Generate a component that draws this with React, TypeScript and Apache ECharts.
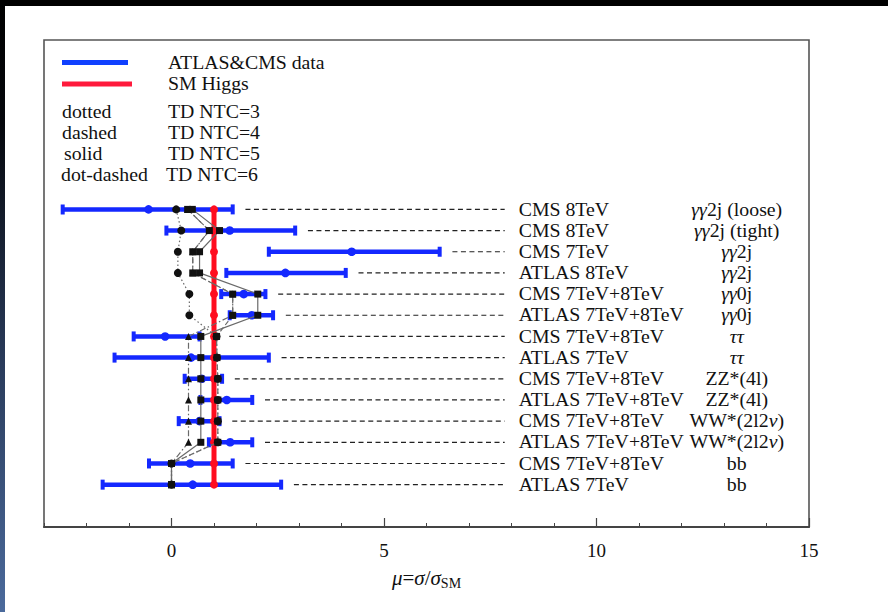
import React, { useEffect, useRef } from "react";
import * as echarts from "echarts";

// ---- data (top row first) ----
const experiments = [
  "CMS 8TeV", "CMS 8TeV", "CMS 7TeV", "ATLAS 8TeV", "CMS 7TeV+8TeV", "ATLAS 7TeV+8TeV",
  "CMS 7TeV+8TeV", "ATLAS 7TeV", "CMS 7TeV+8TeV", "ATLAS 7TeV+8TeV", "CMS 7TeV+8TeV",
  "ATLAS 7TeV+8TeV", "CMS 7TeV+8TeV", "ATLAS 7TeV",
];
const channels = [
  "γγ2j (loose)", "γγ2j (tight)", "γγ2j", "γγ2j", "γγ0j", "γγ0j", "ττ", "ττ",
  "ZZ*(4l)", "ZZ*(4l)", "WW*(2l2ν)", "WW*(2l2ν)", "bb", "bb",
];
const rowY = [14, 13, 12, 11, 10, 9, 8, 7, 6, 5, 4, 3, 2, 1];
const muCentral = [-0.54, 1.37, 4.24, 2.68, 1.70, 1.89, -0.15, 0.46, 0.71, 1.30, 0.66, 1.38, 0.44, 0.50];
const muLow = [-2.56, -0.12, 2.29, 1.29, 1.17, 1.37, -0.89, -1.34, 0.31, 0.68, 0.17, 0.88, -0.53, -1.62];
const muHigh = [1.44, 2.91, 6.31, 4.10, 2.21, 2.39, 0.66, 2.29, 1.19, 1.90, 1.13, 1.90, 1.44, 2.58];
const smHiggs = [1, 1, 1, 1, 1, 1, 1, 1, 1, 1, 1, 1, 1, 1];
const ntc3 = [0.11, 0.23, 0.15, 0.15, 0.42, 0.42, 1.06, 1.07, 1.09, 1.09, 1.09, 1.09, 0.0, 0.0];
const ntc4 = [0.38, 0.89, 0.50, 0.50, 1.44, 1.44, 1.06, 1.07, 1.09, 1.09, 1.09, 1.09, 0.0, 0.0];
const ntc5 = [0.49, 1.13, 0.66, 0.66, 2.03, 2.03, 0.69, 0.69, 0.69, 0.69, 0.69, 0.69, 0.0, 0.0];
const ntc6 = [0.38, 0.89, 0.50, 0.50, 1.44, 1.44, 0.40, 0.40, 0.40, 0.40, 0.40, 0.40, 0.0, 0.0];
const majorTicks = [0, 5, 10, 15];

const FONT = "'Liberation Serif', 'Times New Roman', serif";
const BLUE = "#1428ff";
const RED = "#ff0d1f";
const LABEL_X = 8.17;
const CHANNEL_X = 13.3;
const DASH_END = 7.84;
const SX = 1.1;

function richChannel(s: string): string {
  return s.replace(/[γτν]+/g, (m) => `{g|${m}}`);
}

export default function App() {
  const ref = useRef<HTMLDivElement>(null);

  useEffect(() => {
    const chart = echarts.init(ref.current!, null, { renderer: "svg" });

    const modelSeries = (
      name: string,
      vals: number[],
      dash: any,
      symbol: string,
      size: number
    ) => ({
      name,
      type: "line",
      xAxisIndex: 0,
      z: 5,
      data: vals.map((v, i) => [v, rowY[i]]),
      symbol,
      symbolSize: size,
      itemStyle: { color: "#111" },
      lineStyle: { color: "#6a6a6a", width: 1.2, type: dash },
      silent: true,
    });

    const textBase = { fontFamily: FONT, fontSize: 18, fill: "#111" };
    const legendText = (x: number, y: number, text: string) => ({
      type: "text",
      x,
      y,
      scaleX: SX,
      style: { ...textBase, text, verticalAlign: "middle" },
    });

    chart.setOption({
      animation: false,
      backgroundColor: "#ffffff",
      grid: {
        left: 44,
        top: 40,
        width: 765,
        height: 487,
        show: true,
        borderColor: "#555",
        borderWidth: 1.6,
        backgroundColor: "transparent",
      },
      xAxis: [
        {
          type: "value",
          min: -3,
          max: 15,
          interval: 1,
          position: "bottom",
          axisLine: { show: true, onZero: false, lineStyle: { color: "#444", width: 2 } },
          axisTick: { show: true, inside: true, length: 4, lineStyle: { color: "#444", width: 1 } },
          axisLabel: {
            show: true,
            margin: 14,
            fontFamily: FONT,
            fontSize: 19,
            color: "#111",
            formatter: (v: number) => (majorTicks.indexOf(v) >= 0 ? String(v) : ""),
          },
          splitLine: { show: false },
          name: "{i|μ}{r|=}{i|σ}{r|/}{i|σ}{s|SM}",
          nameLocation: "middle",
          nameGap: 38,
          nameTextStyle: {
            fontFamily: FONT,
            fontSize: 21,
            color: "#111",
            rich: {
              i: { fontFamily: FONT, fontSize: 21, fontStyle: "italic", color: "#111" },
              r: { fontFamily: FONT, fontSize: 21, color: "#111" },
              s: { fontFamily: FONT, fontSize: 14, color: "#111", padding: [11, 0, 0, 0] },
            },
          },
        },
        {
          type: "value",
          min: -3,
          max: 15,
          position: "bottom",
          axisLine: { show: false, onZero: false },
          axisTick: {
            show: true,
            inside: true,
            length: 9,
            customValues: majorTicks,
            lineStyle: { color: "#444", width: 1.2 },
          },
          axisLabel: { show: false },
          splitLine: { show: false },
        },
      ],
      yAxis: { type: "value", min: -1, max: 22, show: false, axisLine: { onZero: false } },
      graphic: [
        { type: "rect", shape: { x: 0, y: 0, width: 888, height: 6 }, style: { fill: "#000" } },
        {
          type: "rect",
          shape: { x: 0, y: 0, width: 5, height: 612 },
          style: {
            fill: new echarts.graphic.LinearGradient(0, 0, 0, 1, [
              { offset: 0, color: "#000000" },
              { offset: 0.2, color: "#05070c" },
              { offset: 0.6, color: "#2a3c5c" },
              { offset: 1, color: "#4b6a9c" },
            ]),
          },
        },
        { type: "line", shape: { x1: 62, y1: 62.5, x2: 128, y2: 62.5 }, style: { stroke: "#1040ff", lineWidth: 5 } },
        { type: "line", shape: { x1: 62, y1: 84, x2: 132, y2: 84 }, style: { stroke: "#ff1a3c", lineWidth: 5 } },
        legendText(168, 62.5, "ATLAS&CMS data"),
        legendText(168, 84, "SM Higgs"),
        legendText(62, 112, "dotted"),
        legendText(62, 133, "dashed"),
        legendText(64, 154, "solid"),
        legendText(61, 175, "dot-dashed"),
        legendText(168, 112, "TD NTC=3"),
        legendText(168, 133, "TD NTC=4"),
        legendText(168, 154, "TD NTC=5"),
        legendText(166, 175, "TD NTC=6"),
      ],
      series: [
        // dashed connectors between bar and label
        {
          type: "custom",
          name: "connectors",
          z: 2,
          silent: true,
          data: rowY.map((y, i) => [
            Math.max(muHigh[i], ntc3[i], ntc4[i], ntc5[i], ntc6[i], smHiggs[i]),
            y,
          ]),
          renderItem: (params: any, api: any) => {
            const y = api.value(1);
            const a = api.coord([api.value(0) + 0.3, y]);
            const b = api.coord([DASH_END, y]);
            return {
              type: "line",
              shape: { x1: a[0], y1: a[1], x2: b[0], y2: b[1] },
              style: { stroke: "#222", lineWidth: 1.2, lineDash: [5, 3.5] },
            };
          },
        },
        // row labels
        {
          type: "custom",
          name: "labels",
          z: 2,
          silent: true,
          data: rowY.map((y, i) => [i, y]),
          renderItem: (params: any, api: any) => {
            const i = params.dataIndex;
            const y = api.value(1);
            const p = api.coord([LABEL_X, y]);
            const q = api.coord([CHANNEL_X, y]);
            return {
              type: "group",
              children: [
                {
                  type: "text",
                  x: p[0],
                  y: p[1],
                  scaleX: SX,
                  style: { ...textBase, text: experiments[i], align: "left", verticalAlign: "middle" },
                },
                {
                  type: "text",
                  x: q[0],
                  y: q[1],
                  scaleX: SX,
                  style: {
                    ...textBase,
                    text: richChannel(channels[i]),
                    align: "center",
                    verticalAlign: "middle",
                    rich: { g: { fontFamily: FONT, fontSize: 18, fontStyle: "italic", fill: "#111" } },
                  },
                },
              ],
            };
          },
        },
        // data error bars
        {
          type: "custom",
          name: "ATLAS&CMS data",
          z: 3,
          silent: true,
          data: rowY.map((y, i) => [muLow[i], muHigh[i], muCentral[i], y]),
          encode: { x: [0, 1, 2], y: 3 },
          renderItem: (params: any, api: any) => {
            const y = api.value(3);
            const lo = api.coord([api.value(0), y]);
            const hi = api.coord([api.value(1), y]);
            const c = api.coord([api.value(2), y]);
            const capH = 10;
            return {
              type: "group",
              children: [
                { type: "line", shape: { x1: lo[0], y1: lo[1], x2: hi[0], y2: hi[1] }, style: { stroke: BLUE, lineWidth: 4.5 } },
                { type: "rect", shape: { x: lo[0] - 2, y: lo[1] - capH / 2, width: 4, height: capH }, style: { fill: BLUE } },
                { type: "rect", shape: { x: hi[0] - 2, y: hi[1] - capH / 2, width: 4, height: capH }, style: { fill: BLUE } },
                { type: "circle", shape: { cx: c[0], cy: c[1], r: 4.3 }, style: { fill: BLUE } },
              ],
            };
          },
        },
        // SM Higgs
        {
          type: "line",
          name: "SM Higgs",
          z: 4,
          silent: true,
          data: smHiggs.map((v, i) => [v, rowY[i]]),
          symbol: "circle",
          symbolSize: 8,
          itemStyle: { color: RED },
          lineStyle: { color: RED, width: 5 },
        },
        modelSeries("TD NTC=3", ntc3, [1.5, 2.5], "circle", 8),
        modelSeries("TD NTC=4", ntc4, [5, 3], "rect", 7),
        modelSeries("TD NTC=5", ntc5, "solid", "rect", 7),
        modelSeries("TD NTC=6", ntc6, [6, 2.5, 1.5, 2.5], "triangle", 7),
      ],
    });

    return () => {
      chart.dispose();
    };
  }, []);

  return (
    <div
      ref={ref}
      style={{ position: "fixed", left: 0, top: 0, width: 888, height: 612, background: "#fff" }}
    />
  );
}
